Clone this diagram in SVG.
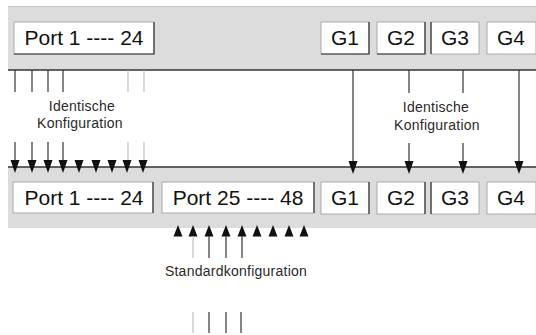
<svg xmlns="http://www.w3.org/2000/svg" xmlns:xlink="http://www.w3.org/1999/xlink" width="536" height="335" viewBox="0 0 536 335">
<style>
.band{fill:#dcdcdc}
.edge{stroke:#333;stroke-width:1.4}
.box{fill:#fff;stroke:#aaa;stroke-width:1}
.sh{fill:none;stroke:#333;stroke-width:1.2}
.lbl{font-family:"Liberation Sans",Arial,sans-serif;font-size:21px;fill:#111;text-anchor:middle}
.sm{font-family:"Liberation Sans",Arial,sans-serif;font-size:14px;fill:#2a2a2a;text-anchor:middle;letter-spacing:0.25px}
.dk{stroke:#222;stroke-width:1.1}
.lt{stroke:#bbb;stroke-width:1.1}
.ah{fill:#111}
</style>
<defs>
<polygon id="down" points="0,0 -4.5,-13 4.5,-13"/>
<polygon id="up" points="0,0 -4.5,11.5 4.5,11.5"/>
</defs>
<rect width="536" height="335" fill="#fff"/>
<g id="top-band">
<rect class="band" x="8" y="7" width="528" height="63"/>
<line x1="8" y1="6.5" x2="536" y2="6.5" stroke="#c8c8c8" stroke-width="1"/>
<line class="edge" x1="8" y1="70" x2="536" y2="70"/>
</g>
<g id="bottom-band">
<rect class="band" x="8" y="167" width="528" height="61"/>
<line class="edge" x1="8" y1="167" x2="536" y2="167"/>
</g>
<g id="top-port">
<rect class="box" x="14" y="22" width="140" height="32"/>
<polyline class="sh" points="154,22 154,54 14,54"/>
<text class="lbl" x="84" y="45">Port 1 ---- 24</text>
</g>
<g id="top-g1"><rect class="box" x="321" y="22" width="48" height="32"/><polyline class="sh" points="369,22 369,54 321,54"/><text class="lbl" x="345" y="45">G1</text></g>
<g id="top-g2"><rect class="box" x="377" y="22" width="48" height="32"/><polyline class="sh" points="425,22 425,54 377,54"/><text class="lbl" x="401" y="45">G2</text></g>
<g id="top-g3"><rect class="box" x="431" y="22" width="48" height="32"/><polyline class="sh" points="431,54 431,22"/><text class="lbl" x="455" y="45">G3</text></g>
<g id="top-g4"><rect class="box" x="487" y="22" width="49" height="32"/><text class="lbl" x="511" y="45">G4</text></g>
<g id="bot-port1">
<rect class="box" x="13" y="182" width="140" height="31"/>
<polyline class="sh" points="153,182 153,213"/>
<text class="lbl" x="84" y="205">Port 1 ---- 24</text>
</g>
<g id="bot-port25">
<rect class="box" x="162" y="182" width="152" height="31"/>
<polyline class="sh" points="314,182 314,213"/>
<text class="lbl" x="238" y="205">Port 25 ---- 48</text>
</g>
<g id="bot-g1"><rect class="box" x="321" y="182" width="48" height="32"/><polyline class="sh" points="369,182 369,214"/><text class="lbl" x="345" y="205">G1</text></g>
<g id="bot-g2"><rect class="box" x="377" y="182" width="48" height="32"/><polyline class="sh" points="425,182 425,214"/><text class="lbl" x="401" y="205">G2</text></g>
<g id="bot-g3"><rect class="box" x="431" y="182" width="48" height="32"/><polyline class="sh" points="431,214 431,182"/><text class="lbl" x="455" y="205">G3</text></g>
<g id="bot-g4"><rect class="box" x="487" y="182" width="49" height="32"/><text class="lbl" x="511" y="205">G4</text></g>
<g id="labels">
<text class="sm" x="82" y="111">Identische</text>
<text class="sm" x="80" y="128">Konfiguration</text>
<text class="sm" x="436" y="112">Identische</text>
<text class="sm" x="437" y="130">Konfiguration</text>
<text class="sm" x="236" y="276">Standardkonfiguration</text>
</g>
<g id="connectors">
<line class="dk" x1="15" y1="70" x2="15" y2="92"/>
<line class="dk" x1="32" y1="70" x2="32" y2="92"/>
<line class="dk" x1="48" y1="70" x2="48" y2="92"/>
<line class="dk" x1="63" y1="70" x2="63" y2="92"/>
<line class="lt" x1="128" y1="70" x2="128" y2="92"/>
<line class="lt" x1="144" y1="70" x2="144" y2="92"/>
<line class="dk" x1="15" y1="142" x2="15" y2="162"/>
<line class="dk" x1="32" y1="142" x2="32" y2="162"/>
<line class="dk" x1="48" y1="142" x2="48" y2="162"/>
<line class="dk" x1="63" y1="142" x2="63" y2="162"/>
<line class="lt" x1="128" y1="142" x2="128" y2="162"/>
<line class="lt" x1="144" y1="142" x2="144" y2="162"/>
<g class="ah">
<use xlink:href="#down" x="15" y="173"/>
<use xlink:href="#down" x="32" y="173"/>
<use xlink:href="#down" x="48" y="173"/>
<use xlink:href="#down" x="63" y="173"/>
<use xlink:href="#down" x="79" y="173"/>
<use xlink:href="#down" x="96" y="173"/>
<use xlink:href="#down" x="112" y="173"/>
<use xlink:href="#down" x="127" y="173"/>
<use xlink:href="#down" x="143" y="173"/>
</g>
<line class="dk" x1="353" y1="70" x2="353" y2="162"/>
<line class="dk" x1="409" y1="70" x2="409" y2="93"/>
<line class="dk" x1="463" y1="70" x2="463" y2="93"/>
<line class="dk" x1="519" y1="70" x2="519" y2="162"/>
<line class="dk" x1="409" y1="143" x2="409" y2="162"/>
<line class="dk" x1="463" y1="143" x2="463" y2="162"/>
<g class="ah">
<use xlink:href="#down" x="353" y="174"/>
<use xlink:href="#down" x="409" y="174"/>
<use xlink:href="#down" x="463" y="174"/>
<use xlink:href="#down" x="519" y="174"/>
</g>
<g class="ah">
<use xlink:href="#up" x="178" y="225"/>
<use xlink:href="#up" x="193" y="225"/>
<use xlink:href="#up" x="209" y="225"/>
<use xlink:href="#up" x="226" y="225"/>
<use xlink:href="#up" x="242" y="225"/>
<use xlink:href="#up" x="257" y="225"/>
<use xlink:href="#up" x="273" y="225"/>
<use xlink:href="#up" x="289" y="225"/>
<use xlink:href="#up" x="304" y="225"/>
</g>
<line class="lt" x1="193" y1="236" x2="193" y2="258"/>
<line class="dk" x1="209" y1="236" x2="209" y2="258"/>
<line class="dk" x1="226" y1="236" x2="226" y2="258"/>
<line class="dk" x1="242" y1="236" x2="242" y2="258"/>
<line class="lt" x1="193" y1="312" x2="193" y2="333"/>
<line class="dk" x1="209" y1="312" x2="209" y2="333"/>
<line class="dk" x1="226" y1="312" x2="226" y2="333"/>
<line class="dk" x1="241" y1="312" x2="241" y2="333"/>
</g>
</svg>
